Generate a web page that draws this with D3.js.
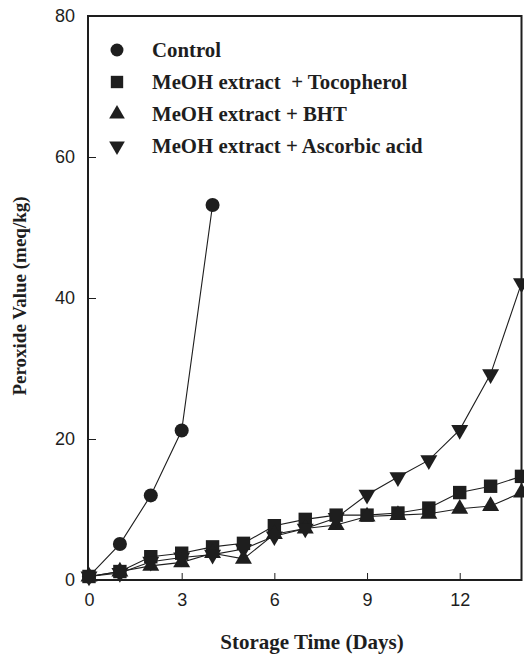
<!DOCTYPE html>
<html>
<head>
<meta charset="utf-8">
<script src="https://cdn.jsdelivr.net/npm/d3@7"></script>
<style>
  html, body { margin: 0; padding: 0; background: #fff; }
  svg { display: block; }
  .legend-label { white-space: pre; }
</style>
</head>
<body>
<svg id="chart" width="524" height="658"></svg>
<script>
// Peroxide value of oil samples during storage
const days = [0, 1, 2, 3, 4, 5, 6, 7, 8, 9, 10, 11, 12, 13, 14];
const controlDays = [0, 1, 2, 3, 4];
const controlValues = [0.5, 5.1, 12.0, 21.2, 53.2];
const tocopherolValues = [0.5, 1.2, 3.3, 3.8, 4.7, 5.2, 7.7, 8.6, 9.2, 9.2, 9.5, 10.2, 12.4, 13.3, 14.7];
const bhtValues = [0.5, 1.2, 2.0, 2.5, 3.8, 3.0, 6.5, 7.3, 7.8, 9.0, 9.2, 9.4, 10.1, 10.5, 12.4];
const ascorbicValues = [0.5, 1.0, 2.6, 3.2, 3.6, 4.4, 6.2, 7.3, 8.8, 12.1, 14.6, 17.0, 21.3, 29.2, 42.1];
const seriesNames = ["Control", "MeOH extract  + Tocopherol", "MeOH extract + BHT", "MeOH extract + Ascorbic acid"];
const xTicks = [0, 3, 6, 9, 12];
const yTicks = [0, 20, 40, 60, 80];

const ink = "#1e1e1e";
const svg = d3.select("#chart");
const m = { left: 88, right: 521.5, top: 16, bottom: 580 };

const x = d3.scaleLinear().domain([0, 14]).range([m.left + 1, m.right]);
const y = d3.scaleLinear().domain([0, 80]).range([m.bottom, m.top]);

// frame
svg.append("rect")
  .attr("x", m.left).attr("y", m.top)
  .attr("width", m.right - m.left).attr("height", m.bottom - m.top)
  .attr("fill", "none").attr("stroke", ink).attr("stroke-width", 2);

// axes with inward ticks
const xAxis = svg.append("g").attr("transform", `translate(0,${m.bottom})`)
  .call(d3.axisBottom(x).tickValues(xTicks).tickSize(-7).tickPadding(13).tickFormat(d3.format("d")));
xAxis.select(".domain").remove();
xAxis.selectAll("line").attr("stroke", ink).attr("stroke-width", 1);
xAxis.selectAll("text").attr("font-family", "Liberation Sans, Arial, sans-serif")
  .attr("font-size", 18).attr("fill", ink);

const yAxis = svg.append("g").attr("transform", `translate(${m.left},0)`)
  .call(d3.axisLeft(y).tickValues(yTicks).tickSize(-8).tickPadding(13).tickFormat(d3.format("d")));
yAxis.select(".domain").remove();
yAxis.selectAll("line").attr("stroke", ink).attr("stroke-width", 1);
yAxis.selectAll("text").attr("font-family", "Liberation Sans, Arial, sans-serif")
  .attr("font-size", 18).attr("fill", ink);

// axis titles
svg.append("text")
  .attr("x", 312).attr("y", 649)
  .attr("text-anchor", "middle")
  .attr("font-family", "Liberation Serif, Times New Roman, serif")
  .attr("font-weight", "bold").attr("font-size", 21).attr("fill", ink)
  .text("Storage Time (Days)");

svg.append("text")
  .attr("transform", "translate(26,296) rotate(-90)")
  .attr("text-anchor", "middle")
  .attr("font-family", "Liberation Serif, Times New Roman, serif")
  .attr("font-weight", "bold").attr("font-size", 19).attr("fill", ink)
  .text("Peroxide Value (meq/kg)");

// series
const series = [
  { name: seriesNames[0], xs: controlDays, ys: controlValues, symbol: d3.symbolCircle, size: 155, rot: 0 },
  { name: seriesNames[1], xs: days, ys: tocopherolValues, symbol: d3.symbolSquare, size: 180, rot: 0 },
  { name: seriesNames[2], xs: days, ys: bhtValues, symbol: d3.symbolTriangle, size: 125, rot: 0 },
  { name: seriesNames[3], xs: days, ys: ascorbicValues, symbol: d3.symbolTriangle, size: 125, rot: 180 }
];

const line = d3.line()
  .x(d => x(d[0])).y(d => y(d[1]));

const plot = svg.append("g");
series.forEach(s => {
  const pts = s.xs.map((d, i) => [d, s.ys[i]]);
  plot.append("path")
    .datum(pts)
    .attr("d", line)
    .attr("fill", "none")
    .attr("stroke", ink)
    .attr("stroke-width", 1.1);
});
series.forEach(s => {
  const pts = s.xs.map((d, i) => [d, s.ys[i]]);
  plot.selectAll(null)
    .data(pts)
    .enter().append("path")
    .attr("d", d3.symbol().type(s.symbol).size(s.size))
    .attr("transform", d => `translate(${x(d[0])},${y(d[1])}) rotate(${s.rot})`)
    .attr("fill", ink);
});

// legend
const legendRows = [50, 82, 114, 146];
series.forEach((s, i) => {
  const ly = legendRows[i];
  svg.append("path")
    .attr("d", d3.symbol().type(s.symbol).size(s.size * 0.85))
    .attr("transform", `translate(117,${ly}) rotate(${s.rot})`)
    .attr("fill", ink);
  svg.append("text")
    .attr("class", "legend-label")
    .attr("x", 152).attr("y", ly + 6.5)
    .attr("font-family", "Liberation Serif, Times New Roman, serif")
    .attr("font-weight", "bold").attr("font-size", 20.8).attr("fill", ink)
    .text(s.name);
});
</script>
</body>
</html>
